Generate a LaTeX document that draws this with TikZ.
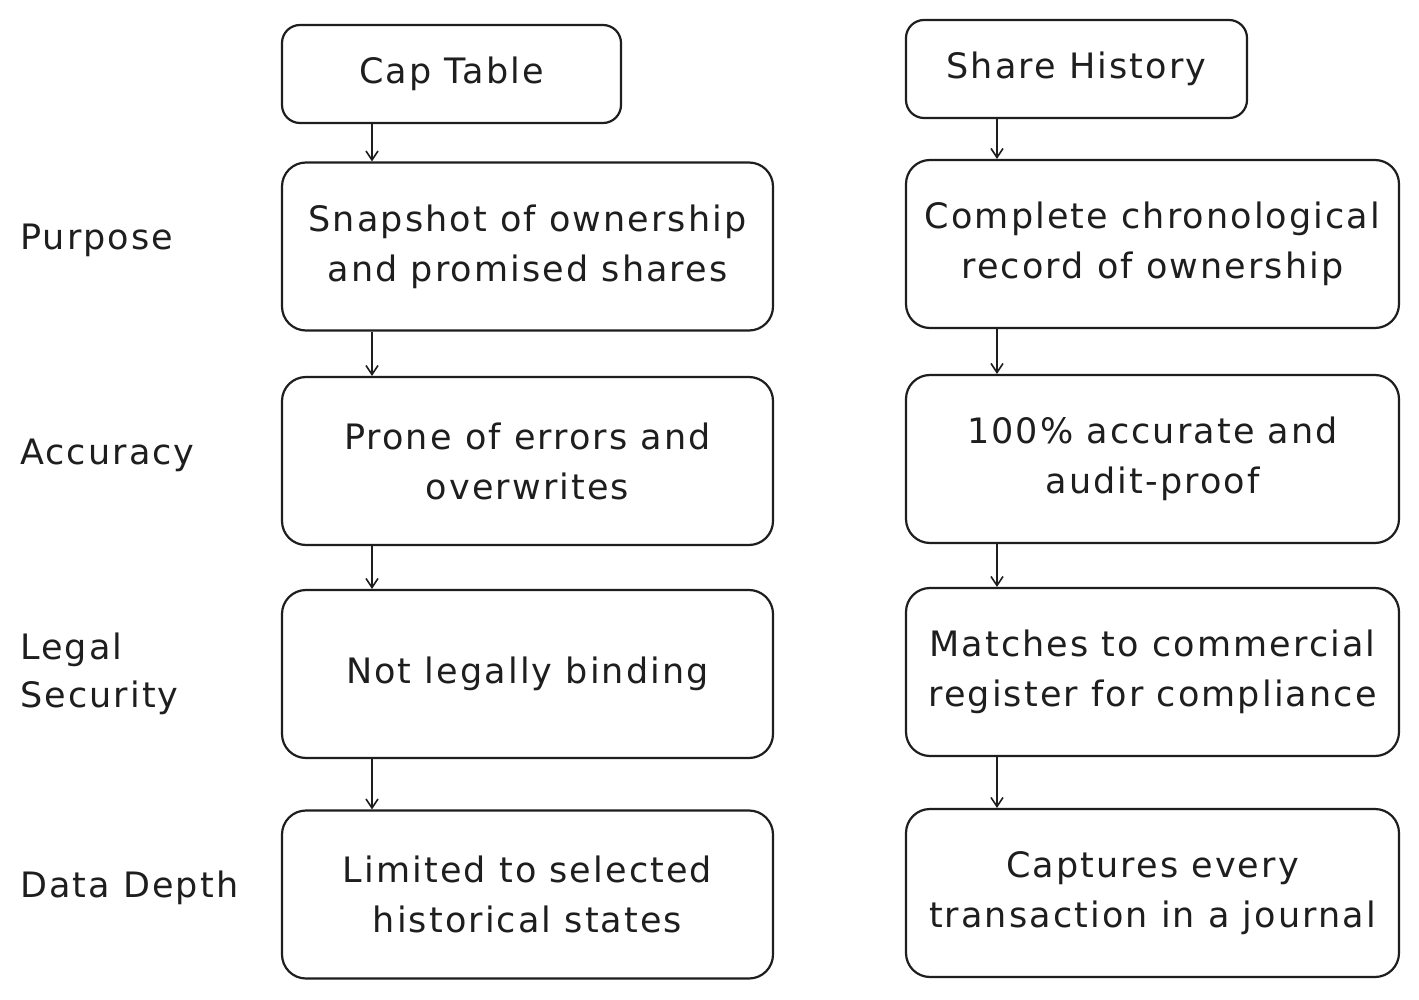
\documentclass[tikz,border=0pt]{standalone}
\usepackage{fontspec}
\setmainfont[LetterSpace=6]{DejaVu Sans}
\usetikzlibrary{arrows.meta}
\definecolor{ink}{HTML}{1E1E1E}
\begin{document}
\begin{tikzpicture}[x=1pt,y=-1pt,
  box/.style={draw=ink, line width=2.2pt, rounded corners=24pt, align=center, text=ink,
    font=\fontsize{35}{50}\selectfont, inner sep=0pt},
  bigbox/.style={box, minimum width=491pt, minimum height=168pt},
  headbox/.style={box, rounded corners=18pt, minimum height=98pt},
  lbl/.style={anchor=west, align=left, text=ink, font=\fontsize{35}{48}\selectfont, inner sep=0pt},
  arr/.style={draw=ink, line width=1.6pt, -{Straight Barb[length=9pt,width=12pt,line width=1.6pt]}}]
\useasboundingbox (0,0) rectangle (1419,1000);
\fill[white] (0,0) rectangle (1419,1000);
% headers
\node[headbox, minimum width=339pt] (cap) at (451.5,74) {Cap Table};
\node[headbox, minimum width=341pt] (sh) at (1076.5,69) {Share History};
% left column
\node[bigbox] (l1) at (527.5,246.5) {Snapshot of ownership\\and promised shares};
\node[bigbox] (l2) at (527.5,461) {Prone of errors and\\overwrites};
\node[bigbox] (l3) at (527.5,674) {Not legally binding};
\node[bigbox] (l4) at (527.5,894.5) {Limited to selected\\historical states};
% right column
\node[bigbox, minimum width=493pt] (r1) at (1152.5,244) {Complete chronological\\record of ownership};
\node[bigbox, minimum width=493pt] (r2) at (1152.5,459) {100\% accurate and\\audit-proof};
\node[bigbox, minimum width=493pt] (r3) at (1152.5,672) {Matches to commercial\\register for compliance};
\node[bigbox, minimum width=493pt] (r4) at (1152.5,893) {Captures every\\transaction in a journal};
% row labels
\node[lbl] (p) at (20,240) {Purpose};
\node[lbl] (a) at (20,455) {Accuracy};
\node[lbl] (s) at (20,674) {Legal\\Security};
\node[lbl] (d) at (20,888) {Data Depth};
% arrow columns
\coordinate (lx) at (372,0);
\coordinate (rx) at (997,0);
\draw[arr] (cap.south -| lx) -- (l1.north -| lx);
\draw[arr] (l1.south -| lx) -- (l2.north -| lx);
\draw[arr] (l2.south -| lx) -- (l3.north -| lx);
\draw[arr] (l3.south -| lx) -- (l4.north -| lx);
\draw[arr] (sh.south -| rx) -- (r1.north -| rx);
\draw[arr] (r1.south -| rx) -- (r2.north -| rx);
\draw[arr] (r2.south -| rx) -- (r3.north -| rx);
\draw[arr] (r3.south -| rx) -- (r4.north -| rx);
\end{tikzpicture}
\end{document}
